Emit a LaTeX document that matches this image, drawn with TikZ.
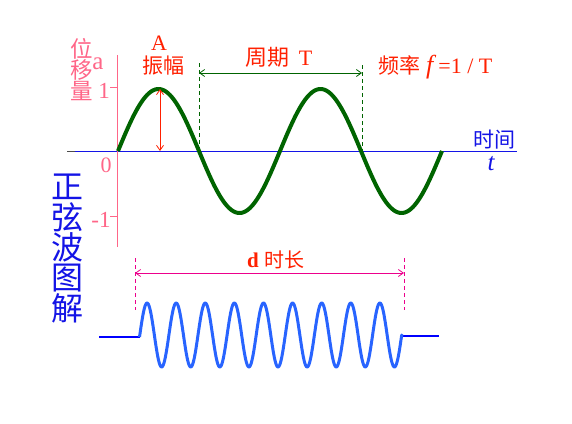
\documentclass[tikz,border=0pt]{standalone}
\usepackage{fontspec}
\setmainfont{Liberation Serif}
\newfontfamily\cjk{Noto Sans CJK SC}
\usetikzlibrary{arrows.meta}
\definecolor{wgreen}{RGB}{0,100,0}
\definecolor{axpink}{RGB}{255,102,136}
\definecolor{txred}{RGB}{255,32,0}
\definecolor{wblue}{RGB}{40,100,255}
\definecolor{axblue}{RGB}{20,20,230}
\tikzset{
  lbl/.style={inner sep=0pt, anchor=center},
  redtxt/.style={lbl, text=txred},
  pinktxt/.style={lbl, text=axpink},
  bluetxt/.style={lbl, text=axblue},
  dim/.style={line width=0.8pt, {Straight Barb[length=5pt,width=7pt]}-{Straight Barb[length=5pt,width=7pt]}},
  guide/.style={line width=0.8pt, dashed, dash pattern=on 4pt off 3pt},
}
\begin{document}
\begin{tikzpicture}[x=1pt,y=-1pt]
\useasboundingbox[fill=white] (0,0) rectangle (572,423);
% axes
\coordinate (ax0) at (67,151);
\coordinate (ax1) at (75,151);
\coordinate (ax2) at (517,151);
\draw[gray!60!black, line width=1pt] (ax0) -- (ax1);
\draw[axblue, line width=1pt] (ax1) -- (ax2);
\coordinate (vy0) at (117,55);
\coordinate (vy1) at (117,247);
\draw[axpink, line width=1pt] (vy0) -- (vy1);
\coordinate (t1a) at (110,87); \coordinate (t1b) at (117,87);
\coordinate (t2a) at (110,216); \coordinate (t2b) at (117,216);
\draw[axpink, line width=0.8pt] (t1a) -- (t1b);
\draw[axpink, line width=0.8pt] (t2a) -- (t2b);
\node[pinktxt, font=\fontsize{23}{23}\selectfont] (one) at (104,91) {1};
\node[pinktxt, font=\fontsize{23}{23}\selectfont] (mone) at (101,220) {-1};
\node[pinktxt, font=\fontsize{22}{22}\selectfont] (zero) at (106,165) {0};
% labels
\node[pinktxt, font=\cjk\fontsize{22.5}{22.5}\selectfont] (wei) at (82,49) {位};
\node[pinktxt, font=\cjk\fontsize{22.5}{22.5}\selectfont] (yi) at (82,70) {移};
\node[pinktxt, font=\cjk\fontsize{22.5}{22.5}\selectfont] (liang) at (82,91) {量};
\node[pinktxt, font=\fontsize{25}{25}\selectfont] (a) at (98,64) {a};
\node[bluetxt, font=\cjk\fontsize{21}{21}\selectfont] (shijian) at (494,140) {时间};
\node[bluetxt, font=\itshape\fontsize{25}{25}\selectfont] (t) at (491,164) {t};
\node[redtxt, font=\fontsize{22}{22}\selectfont] (A) at (159,43) {A};
\node[redtxt, font=\cjk\fontsize{21}{21}\selectfont] (zhenfu) at (163,66) {振幅};
\node[redtxt, font=\cjk\fontsize{22}{22}\selectfont] (zhouqi) at (279,57) {周期\hspace{9pt}{\rmfamily\fontsize{22}{22}\selectfont T}};
\node[redtxt, font=\cjk\fontsize{21}{21}\selectfont, anchor=west] (pinlv) at (378,67) {频率\hspace{6pt}{\rmfamily\itshape\fontsize{26}{26}\selectfont f}\hspace{5pt}{\rmfamily\fontsize{22}{22}\selectfont =1 / T}};
\node[redtxt, font=\cjk\fontsize{20}{20}\selectfont] (dshichang) at (276,260) {{\rmfamily\bfseries\fontsize{21}{21}\selectfont d}\hspace{6pt}时长};
% title
\foreach \ch/\yy/\nm in {正/187/c1, 弦/217/c2, 波/247/c3, 图/278/c4, 解/308/c5}
  \node[bluetxt, font=\cjk\fontsize{32}{32}\selectfont] (\nm) at (67,\yy) {\ch};
% sine wave
\draw[wgreen, line width=4pt, line join=round] plot[domain=118:442, samples=200] (\x, {151-62*sin((\x-118)/162*360)});
% amplitude arrow
\coordinate (amp0) at (160,89);
\coordinate (amp1) at (160,151);
\draw[txred, dim] (amp0) -- (amp1);
% period guides
\coordinate (g1a) at (199,63); \coordinate (g1b) at (199,151);
\coordinate (g2a) at (362,65); \coordinate (g2b) at (362,151);
\draw[wgreen, guide] (g1a) -- (g1b);
\draw[wgreen, guide] (g2a) -- (g2b);
\coordinate (p0) at (199,73); \coordinate (p1) at (362,73);
\draw[wgreen, dim] (p0) -- (p1);
% bottom duration
\coordinate (d1a) at (135,258); \coordinate (d1b) at (135,310);
\coordinate (d2a) at (404,258); \coordinate (d2b) at (404,310);
\draw[magenta, guide] (d1a) -- (d1b);
\draw[magenta, guide] (d2a) -- (d2b);
\coordinate (q0) at (135,273); \coordinate (q1) at (404,273);
\draw[magenta, dim] (q0) -- (q1);
% signal
\coordinate (s0) at (99,337); \coordinate (s1) at (139.5,337);
\coordinate (s2) at (402,336); \coordinate (s3) at (439,336);
\draw[blue, line width=2.5pt] (s0) -- (s1);
\draw[blue, line width=2.5pt] (s2) -- (s3);
\draw[wblue, line width=3pt, line join=round] (s1) -- plot[domain=139.8:401.7, samples=400] (\x, {335-32*sin((\x-139.8)/29.1*360)}) -- (s2);
\end{tikzpicture}
\end{document}
